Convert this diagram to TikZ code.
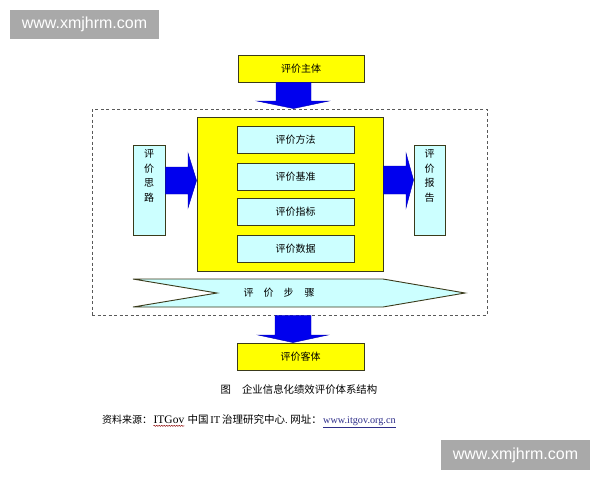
\documentclass[tikz,border=0pt]{standalone}
\usepackage{fontspec}
\setmainfont{Liberation Serif}
\newfontfamily\cjk{Noto Sans CJK SC}
\newfontfamily\wmfont{Liberation Sans}
\usepackage{tikz}
\usetikzlibrary{positioning, decorations.pathmorphing}
\usepackage{xcolor}
\definecolor{boxyellow}{HTML}{FFFF00}
\definecolor{boxcyan}{HTML}{CCFFFF}
\definecolor{arrowblue}{HTML}{0000EE}
\definecolor{edgedark}{HTML}{3A3A1A}
\definecolor{markgray}{HTML}{A9A9A9}
\definecolor{linkblue}{HTML}{2E2E8A}

\tikzset{
    yellowbox/.style={draw=edgedark, fill=boxyellow, line width=0.9pt, inner sep=0pt, font=\cjk\fontsize{10}{12}\selectfont},
    cyanbox/.style={draw=edgedark, fill=boxcyan, line width=0.9pt, inner sep=0pt, font=\cjk\fontsize{10}{12}\selectfont},
    vlabel/.style={inner sep=0pt, align=center, font=\cjk\fontsize{10}{14.5}\selectfont},
    blockarrow/.style={fill=arrowblue, draw=arrowblue!75!black, line width=0.4pt},
    watermark/.style={fill=markgray, text=white, inner sep=0pt, font=\wmfont\fontsize{16}{18}\selectfont},
    srctext/.style={inner sep=0pt, font=\fontsize{10.5}{12}\selectfont}
}

\begin{document}
\begin{tikzpicture}[x=1pt, y=-1pt]
            \useasboundingbox[fill=white] (0,0) rectangle (600,480);

            \node[watermark, minimum width=149, minimum height=29] (wmtop) at (84.5,24.5) {www.xmjhrm.com};
            \node[watermark, minimum width=149, minimum height=30] (wmbottom) at (515.5,455) {www.xmjhrm.com};

            \node[draw=black!65, dash pattern=on 3pt off 2.5pt, line width=0.9pt, minimum width=395, minimum height=206] (frame) at (289.5,212) {};

            \node[yellowbox, minimum width=126, minimum height=27] (subject) at (301,68.5) {评价主体};
            \node[yellowbox, minimum width=186, minimum height=154] (core) at (290,194) {};
            \node[cyanbox, minimum width=117, minimum height=27] (method) at (295.5,140) {评价方法};
            \node[cyanbox, minimum width=117, minimum height=27] (basis) at (295.5,176.5) {评价基准};
            \node[cyanbox, minimum width=117, minimum height=27] (index) at (295.5,212) {评价指标};
            \node[cyanbox, minimum width=117, minimum height=27] (data) at (295.5,248.5) {评价数据};

            \node[cyanbox, minimum width=32, minimum height=90] (idea) at (149,190) {};
            \node[vlabel, below=5pt of idea.north] (idealabel) {评\\价\\思\\路};
            \node[cyanbox, minimum width=31, minimum height=90] (report) at (429.5,190) {};
            \node[vlabel, below=5pt of report.north] (reportlabel) {评\\价\\报\\告};

            \node[yellowbox, minimum width=127, minimum height=27] (object) at (300.5,356.5) {评价客体};

            \draw[blockarrow] (subject.south -| 276,0) -- (subject.south -| 311,0) -- (311,101) -- (329,101)
                -- (frame.north -| 293.5,0) -- (257,101) -- (276,101) -- cycle;
            \draw[blockarrow] (frame.south -| 275,0) -- (frame.south -| 311,0) -- (311,335) -- (328,335)
                -- (object.north -| 293,0) -- (258,335) -- (275,335) -- cycle;
            \draw[blockarrow] (idea.east |- 0,167) -- (188,167) -- (188,153) -- (core.west |- 0,180.5)
                -- (188,208) -- (188,194) -- (idea.east |- 0,194) -- cycle;
            \draw[blockarrow] (core.east |- 0,166) -- (406,166) -- (406,153) -- (report.west |- 0,180)
                -- (406,208) -- (406,194) -- (core.east |- 0,194) -- cycle;

            \draw[draw=edgedark, fill=boxcyan, line width=0.9pt] (133,279) -- (383,279) -- (465,293) -- (383,307) -- (133,307) -- (217,293) -- cycle;
            \node[inner sep=0pt, font=\cjk\fontsize{10}{12}\selectfont] (steps) at (279,293) {评\hspace{10pt}价\hspace{10pt}步\hspace{11pt}骤};

            \node[inner sep=0pt, font=\cjk\fontsize{10.4}{12}\selectfont] (caption) at (299,390) {图\hspace{11pt}企业信息化绩效评价体系结构};

            \node[srctext, anchor=base west] (srcA) at (102,423.5) {\cjk\fontsize{10}{12}\selectfont 资料来源：};
            \node[srctext, base right=1pt of srcA, font=\fontsize{11.5}{12}\selectfont] (itgov) {ITGov};
            \node[srctext, base right=3pt of itgov] (srcB) {{\cjk 中国}\,IT\,{\cjk 治理研究中心}.\ {\cjk 网址：}};
            \node[srctext, base right=1pt of srcB, text=linkblue, font=\fontsize{10.2}{12}\selectfont] (url) {\underline{www.itgov.org.cn}};
            \draw[red!55!black, line width=0.4pt, decorate, decoration={snake, amplitude=0.6pt, segment length=2.5pt}]
                ([yshift=-2pt]itgov.south west) -- ([yshift=-2pt]itgov.south east);
        \end{tikzpicture}
\end{document}
